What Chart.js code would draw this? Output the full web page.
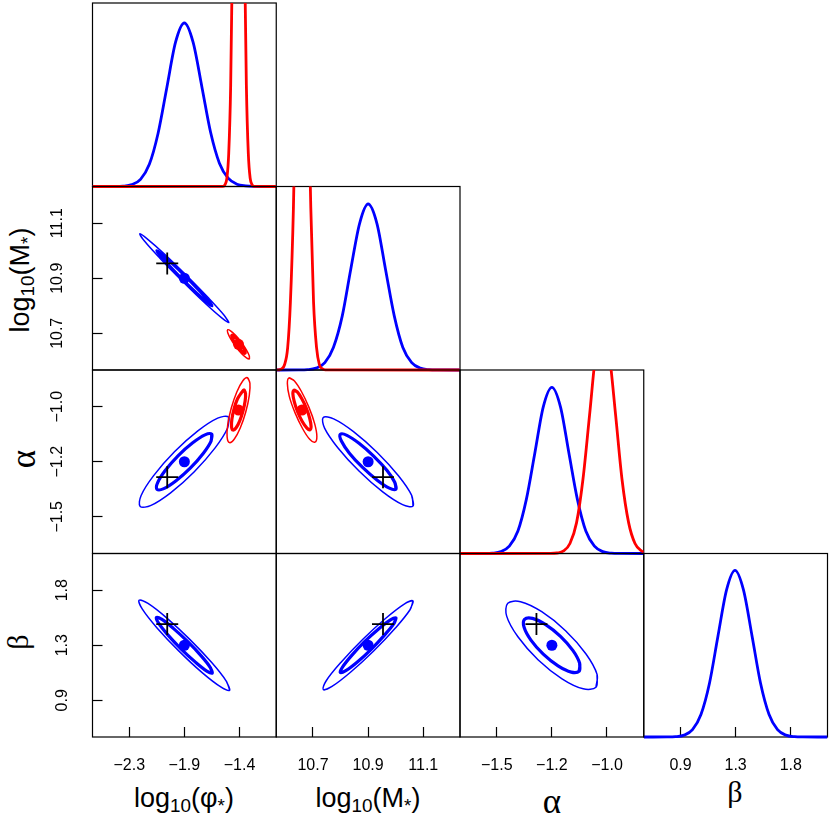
<!DOCTYPE html>
<html>
<head>
<meta charset="utf-8">
<script src="https://cdn.jsdelivr.net/npm/chart.js@4.4.1/dist/chart.umd.min.js"></script>
<style>
  body { margin: 0; background: #fff; width: 830px; height: 830px; position: relative; overflow: hidden;
         font-family: "Liberation Sans", Arial, sans-serif; }
  canvas { position: absolute; left: 0; top: 0; }
  .t { position: absolute; white-space: nowrap; font-size: 27px; line-height: 1; transform: translate(-50%, -50%); }
  .t sub { font-size: 70%; vertical-align: -0.3em; line-height: 0; }
  .g { font-family: "Liberation Serif", serif; font-size: 30px; }
  .a { font-size: 35px; }
  .r { transform: translate(-50%, -50%) rotate(-90deg); }
</style>
</head>
<body>
<div class="t" style="left:184px;top:798px">log<sub>10</sub>(φ<sub>*</sub>)</div>
<div class="t" style="left:368px;top:798px">log<sub>10</sub>(M<sub>*</sub>)</div>
<div class="t g a" style="left:552px;top:801px">α</div>
<div class="t g" style="left:735px;top:792px">β</div>
<div class="t r" style="left:20px;top:280px">log<sub>10</sub>(M<sub>*</sub>)</div>
<div class="t g a r" style="left:23px;top:459px">α</div>
<div class="t g r" style="left:18px;top:642px">β</div>

<script>
// parameters: log10(phi*), log10(M*), alpha, beta
const axisMin = [-2.6, 10.56667, -1.66667, 0.6];
const axisMax = [-1.1, 11.23333, -0.83333, 2.1];
const tickValues = [[-2.3, -1.85, -1.4], [10.7, 10.9, 11.1], [-1.5, -1.25, -1.0], [0.9, 1.35, 1.8]];
const tickLabels = [['−2.3', '−1.9', '−1.4'], ['10.7', '10.9', '11.1'], ['−1.5', '−1.2', '−1.0'], ['0.9', '1.3', '1.8']];

const trueValues = [-1.99, 10.954, -1.32, 1.523];
const blueMeans = [-1.85, 10.9, -1.25, 1.35];
const redMeans = [-1.408, 10.66, -1.015];

// marginal densities (diagonal)
const phiX = [-2.6, -2.422, -2.351, -2.279, -2.208, -2.136, -2.065, -1.993, -1.922, -1.85, -1.779, -1.707, -1.636, -1.564, -1.493, -1.421, -1.350, -1.278, -1.1];
const phiBlue = [0, 0.0003, 0.002, 0.011, 0.043, 0.133, 0.318, 0.594, 0.865, 0.98, 0.865, 0.597, 0.325, 0.14, 0.05, 0.014, 0.004, 0.001, 0];
const phiRedX = [-2.6, -1.535, -1.519, -1.503, -1.488, -1.472, -1.456, -1.440, -1.424, -1.408, -1.392, -1.376, -1.360, -1.344, -1.328, -1.313, -1.297, -1.281, -1.1];
const phiRed = [0, 0.001, 0.010, 0.050, 0.198, 0.609, 1.461, 2.729, 3.971, 4.5, 3.971, 2.729, 1.461, 0.609, 0.198, 0.050, 0.010, 0.001, 0];

const mX = [10.567, 10.648, 10.680, 10.711, 10.743, 10.774, 10.806, 10.837, 10.869, 10.9, 10.932, 10.963, 10.995, 11.026, 11.058, 11.089, 11.121, 11.152, 11.233];
const mBlue = [0, 0.0003, 0.002, 0.011, 0.044, 0.135, 0.323, 0.604, 0.878, 0.995, 0.878, 0.604, 0.323, 0.135, 0.044, 0.011, 0.002, 0.0003, 0];
const mRedX = [10.567, 10.576, 10.587, 10.597, 10.608, 10.618, 10.629, 10.639, 10.650, 10.660, 10.671, 10.681, 10.692, 10.702, 10.713, 10.723, 10.734, 10.744, 11.233];
const mRed = [0, 0.001, 0.007, 0.033, 0.132, 0.406, 0.974, 1.820, 2.648, 3.0, 2.648, 1.820, 0.974, 0.406, 0.132, 0.033, 0.007, 0.001, 0];

const aX = [-1.667, -1.558, -1.520, -1.481, -1.443, -1.404, -1.366, -1.327, -1.289, -1.25, -1.211, -1.173, -1.134, -1.096, -1.057, -1.019, -0.980, -0.942, -0.833];
const aBlue = [0, 0.0003, 0.002, 0.011, 0.044, 0.135, 0.323, 0.604, 0.879, 0.996, 0.879, 0.604, 0.323, 0.135, 0.044, 0.011, 0.002, 0.0003, 0];
const aRedX = [-1.667, -1.256, -1.227, -1.197, -1.168, -1.138, -1.109, -1.079, -1.050, -1.02, -0.991, -0.961, -0.932, -0.902, -0.873, -0.843, -0.833];
const aRed = [0, 0.0004, 0.003, 0.015, 0.060, 0.185, 0.445, 0.831, 1.209, 1.37, 1.209, 0.831, 0.445, 0.185, 0.060, 0.015, 0.009];

const bX = [0.6, 0.790, 0.859, 0.929, 0.998, 1.067, 1.137, 1.206, 1.276, 1.345, 1.414, 1.484, 1.553, 1.623, 1.692, 1.761, 1.831, 1.900, 2.1];
const bBlue = [0, 0.0003, 0.002, 0.011, 0.044, 0.135, 0.324, 0.606, 0.882, 0.999, 0.882, 0.606, 0.324, 0.135, 0.044, 0.011, 0.002, 0.0003, 0];

// 95% (thin) and 68% (thick) contours, points read around each ellipse
const phiM_blue95 = [[-1.486, 10.739], [-1.524, 10.765], [-1.650, 10.827], [-1.830, 10.909], [-2.015, 10.989], [-2.156, 11.044], [-2.214, 11.062], [-2.176, 11.035], [-2.050, 10.973], [-1.870, 10.891], [-1.685, 10.811], [-1.545, 10.756]];
const phiM_blue68 = [[-1.625, 10.800], [-1.649, 10.817], [-1.727, 10.855], [-1.838, 10.906], [-1.952, 10.955], [-2.039, 10.989], [-2.075, 11.000], [-2.051, 10.984], [-1.973, 10.945], [-1.863, 10.894], [-1.748, 10.845], [-1.662, 10.811]];
const phiM_red95 = [[-1.320, 10.607], [-1.320, 10.618], [-1.344, 10.640], [-1.385, 10.668], [-1.432, 10.693], [-1.473, 10.709], [-1.496, 10.713], [-1.496, 10.702], [-1.472, 10.680], [-1.431, 10.652], [-1.384, 10.627], [-1.343, 10.611]];
const phiM_red68 = [[-1.354, 10.628], [-1.354, 10.634], [-1.369, 10.648], [-1.394, 10.665], [-1.423, 10.680], [-1.448, 10.691], [-1.462, 10.693], [-1.462, 10.686], [-1.447, 10.672], [-1.422, 10.655], [-1.393, 10.640], [-1.368, 10.629]];

const phiA_blue95 = [[-1.489, -1.047], [-1.497, -1.097], [-1.599, -1.187], [-1.769, -1.295], [-1.960, -1.390], [-2.122, -1.448], [-2.211, -1.453], [-2.203, -1.403], [-2.101, -1.313], [-1.931, -1.205], [-1.740, -1.110], [-1.578, -1.052]];
const phiA_blue68 = [[-1.627, -1.125], [-1.632, -1.156], [-1.695, -1.211], [-1.800, -1.278], [-1.918, -1.336], [-2.018, -1.372], [-2.073, -1.375], [-2.068, -1.345], [-2.005, -1.289], [-1.900, -1.222], [-1.782, -1.164], [-1.682, -1.128]];
const phiA_red95 = [[-1.335, -0.868], [-1.315, -0.892], [-1.320, -0.949], [-1.349, -1.024], [-1.394, -1.097], [-1.442, -1.147], [-1.482, -1.163], [-1.501, -1.138], [-1.496, -1.081], [-1.467, -1.006], [-1.422, -0.933], [-1.374, -0.883]];
const phiA_red68 = [[-1.363, -0.924], [-1.351, -0.939], [-1.354, -0.974], [-1.372, -1.021], [-1.399, -1.065], [-1.429, -1.097], [-1.453, -1.106], [-1.465, -1.091], [-1.462, -1.056], [-1.444, -1.009], [-1.417, -0.965], [-1.387, -0.939]];

const phiB_blue95 = [[-1.480, 0.982], [-1.507, 1.055], [-1.625, 1.206], [-1.804, 1.396], [-1.995, 1.574], [-2.147, 1.692], [-2.220, 1.718], [-2.193, 1.645], [-2.075, 1.494], [-1.896, 1.304], [-1.705, 1.126], [-1.553, 1.009]];
const phiB_blue68 = [[-1.622, 1.123], [-1.638, 1.168], [-1.711, 1.261], [-1.822, 1.379], [-1.940, 1.488], [-2.033, 1.561], [-2.078, 1.577], [-2.062, 1.532], [-1.989, 1.439], [-1.878, 1.321], [-1.760, 1.212], [-1.667, 1.139]];

const mA_blue95 = [[11.063, -1.451], [11.058, -1.403], [11.010, -1.314], [10.933, -1.208], [10.847, -1.113], [10.775, -1.055], [10.737, -1.049], [10.742, -1.097], [10.790, -1.186], [10.867, -1.292], [10.953, -1.387], [11.025, -1.445]];
const mA_blue68 = [[11.001, -1.374], [10.997, -1.344], [10.968, -1.289], [10.920, -1.224], [10.867, -1.166], [10.823, -1.130], [10.799, -1.126], [10.803, -1.156], [10.832, -1.211], [10.880, -1.276], [10.933, -1.334], [10.977, -1.370]];
const mA_red95 = [[10.613, -0.869], [10.632, -0.882], [10.658, -0.931], [10.685, -1.002], [10.706, -1.077], [10.714, -1.135], [10.707, -1.161], [10.688, -1.148], [10.662, -1.099], [10.635, -1.028], [10.614, -0.953], [10.607, -0.895]];
const mA_red68 = [[10.631, -0.925], [10.643, -0.933], [10.659, -0.963], [10.676, -1.007], [10.688, -1.053], [10.693, -1.089], [10.689, -1.105], [10.678, -1.097], [10.661, -1.067], [10.644, -1.023], [10.632, -0.977], [10.627, -0.941]];

const mB_blue95 = [[11.063, 1.712], [11.052, 1.640], [10.999, 1.491], [10.920, 1.303], [10.836, 1.129], [10.769, 1.013], [10.737, 0.988], [10.748, 1.060], [10.801, 1.209], [10.880, 1.397], [10.964, 1.571], [11.031, 1.687]];
const mB_blue68 = [[11.001, 1.573], [10.994, 1.529], [10.961, 1.437], [10.913, 1.321], [10.861, 1.213], [10.819, 1.142], [10.799, 1.127], [10.807, 1.171], [10.839, 1.263], [10.887, 1.379], [10.940, 1.487], [10.981, 1.558]];

const aB_blue95 = [[-1.050, 1.007], [-1.045, 1.112], [-1.096, 1.281], [-1.188, 1.469], [-1.296, 1.624], [-1.392, 1.706], [-1.450, 1.693], [-1.455, 1.588], [-1.404, 1.419], [-1.313, 1.232], [-1.204, 1.076], [-1.108, 0.994]];
const aB_blue68 = [[-1.126, 1.139], [-1.124, 1.203], [-1.155, 1.308], [-1.211, 1.423], [-1.278, 1.519], [-1.338, 1.570], [-1.374, 1.562], [-1.376, 1.497], [-1.345, 1.392], [-1.289, 1.277], [-1.222, 1.181], [-1.162, 1.130]];

const BLUE = '#0000ff', RED = '#ff0000';
const AXIS_BAND = 80;   // room kept for the tick labels beside the edge panels

function density(xs, ys, color, order) {
  return {
    data: xs.map((x, i) => ({x: x, y: ys[i]})),
    showLine: true, borderColor: color, borderWidth: 2.8, pointRadius: 0,
    cubicInterpolationMode: 'monotone', order: order,
    clip: {left: 0, top: 0, right: 0, bottom: 3}
  };
}

function ring(pts, color, width, order) {
  const data = pts.map(p => ({x: p[0], y: p[1]}));
  // go round once more past the start so the join is smooth
  data.push({x: pts[0][0], y: pts[0][1]}, {x: pts[1][0], y: pts[1][1]});
  return {data: data, showLine: true, borderColor: color, borderWidth: width, pointRadius: 0, tension: 0.35, order: order};
}

function dot(x, y, color) {
  return {data: [{x: x, y: y}], showLine: false, pointRadius: 5.5, pointBackgroundColor: color,
          pointBorderWidth: 0, order: 1};
}

function cross(x, y) {
  return {data: [{x: x, y: y}], showLine: false, pointStyle: 'cross', pointRadius: 11,
          pointBorderColor: '#000', pointBorderWidth: 1.8, order: 0};
}

function scaleFor(p, position, show) {
  if (p < 0) return {type: 'linear', position: position, display: false, min: 0, max: 1.1};
  const s = {
    type: 'linear', position: position, min: axisMin[p], max: axisMax[p], display: show,
    afterBuildTicks: sc => { sc.ticks = tickValues[p].map(v => ({value: v})); },
    afterFit: sc => {
      const band = show ? AXIS_BAND : 0;
      if (position === 'bottom') sc.height = band; else sc.width = band;
      sc.paddingLeft = sc.paddingRight = sc.paddingTop = sc.paddingBottom = 0;
    },
    border: {display: false},
    grid: {drawOnChartArea: false, drawTicks: true, tickLength: -10, tickColor: '#000', tickWidth: 1.2},
    ticks: {color: '#000', font: {family: '"Liberation Sans", Arial, sans-serif', size: 16},
            padding: 29, autoSkip: false, callback: (v, i) => tickLabels[p][i]}
  };
  if (position === 'left') {
    s.ticks.minRotation = 90; s.ticks.maxRotation = 90; s.ticks.crossAlign = 'center';
  } else {
    s.ticks.maxRotation = 0;
  }
  return s;
}

const panelBox = {
  id: 'panelBox',
  beforeDatasetsDraw(chart) {
    const a = chart.chartArea, c = chart.ctx;
    c.save();
    c.strokeStyle = '#000';
    c.lineWidth = 1.2;
    c.strokeRect(a.left, a.top, a.right - a.left, a.bottom - a.top);
    c.restore();
  }
};

const panels = [
  {r: 0, c: 0, sets: [density(phiRedX, phiRed, RED, 1), density(phiX, phiBlue, BLUE, 2)]},
  {r: 1, c: 1, sets: [density(mRedX, mRed, RED, 1), density(mX, mBlue, BLUE, 2)]},
  {r: 2, c: 2, sets: [density(aRedX, aRed, RED, 1), density(aX, aBlue, BLUE, 2)]},
  {r: 3, c: 3, sets: [density(bX, bBlue, BLUE, 2)]},
  {r: 1, c: 0, sets: [
    cross(trueValues[0], trueValues[1]), dot(blueMeans[0], blueMeans[1], BLUE), dot(redMeans[0], redMeans[1], RED),
    ring(phiM_red95, RED, 1.5, 2), ring(phiM_red68, RED, 3.2, 2),
    ring(phiM_blue95, BLUE, 1.5, 3), ring(phiM_blue68, BLUE, 3.2, 3)]},
  {r: 2, c: 0, sets: [
    cross(trueValues[0], trueValues[2]), dot(blueMeans[0], blueMeans[2], BLUE), dot(redMeans[0], redMeans[2], RED),
    ring(phiA_red95, RED, 1.5, 2), ring(phiA_red68, RED, 3.2, 2),
    ring(phiA_blue95, BLUE, 1.5, 3), ring(phiA_blue68, BLUE, 3.2, 3)]},
  {r: 3, c: 0, sets: [
    cross(trueValues[0], trueValues[3]), dot(blueMeans[0], blueMeans[3], BLUE),
    ring(phiB_blue95, BLUE, 1.5, 3), ring(phiB_blue68, BLUE, 3.2, 3)]},
  {r: 2, c: 1, sets: [
    cross(trueValues[1], trueValues[2]), dot(blueMeans[1], blueMeans[2], BLUE), dot(redMeans[1], redMeans[2], RED),
    ring(mA_red95, RED, 1.5, 2), ring(mA_red68, RED, 3.2, 2),
    ring(mA_blue95, BLUE, 1.5, 3), ring(mA_blue68, BLUE, 3.2, 3)]},
  {r: 3, c: 1, sets: [
    cross(trueValues[1], trueValues[3]), dot(blueMeans[1], blueMeans[3], BLUE),
    ring(mB_blue95, BLUE, 1.5, 3), ring(mB_blue68, BLUE, 3.2, 3)]},
  {r: 3, c: 2, sets: [
    cross(trueValues[2], trueValues[3]), dot(blueMeans[2], blueMeans[3], BLUE),
    ring(aB_blue95, BLUE, 1.5, 3), ring(aB_blue68, BLUE, 3.2, 3)]}
];

const left0 = 92.5, top0 = 3, panelW = 183.75, panelH = 183.5;

panels.forEach(p => {
  const cv = document.createElement('canvas');
  cv.width = 830; cv.height = 830;
  document.body.appendChild(cv);
  const left = left0 + p.c * panelW, top = top0 + p.r * panelH;
  const diag = p.r === p.c;
  const showX = p.r === 3, showY = !diag && p.c === 0;
  new Chart(cv, {
    type: 'scatter',
    data: {datasets: p.sets},
    options: {
      responsive: false,
      animation: false,
      events: [],
      layout: {padding: {
        left: left - (showY ? AXIS_BAND : 0),
        top: top,
        right: 830 - left - panelW,
        bottom: 830 - top - panelH - (showX ? AXIS_BAND : 0)
      }},
      plugins: {legend: {display: false}, tooltip: {enabled: false}},
      scales: {
        x: scaleFor(p.c, 'bottom', showX),
        y: diag ? scaleFor(-1, 'left', false) : scaleFor(p.r, 'left', showY)
      }
    },
    plugins: [panelBox]
  });
});
</script>
</body>
</html>
